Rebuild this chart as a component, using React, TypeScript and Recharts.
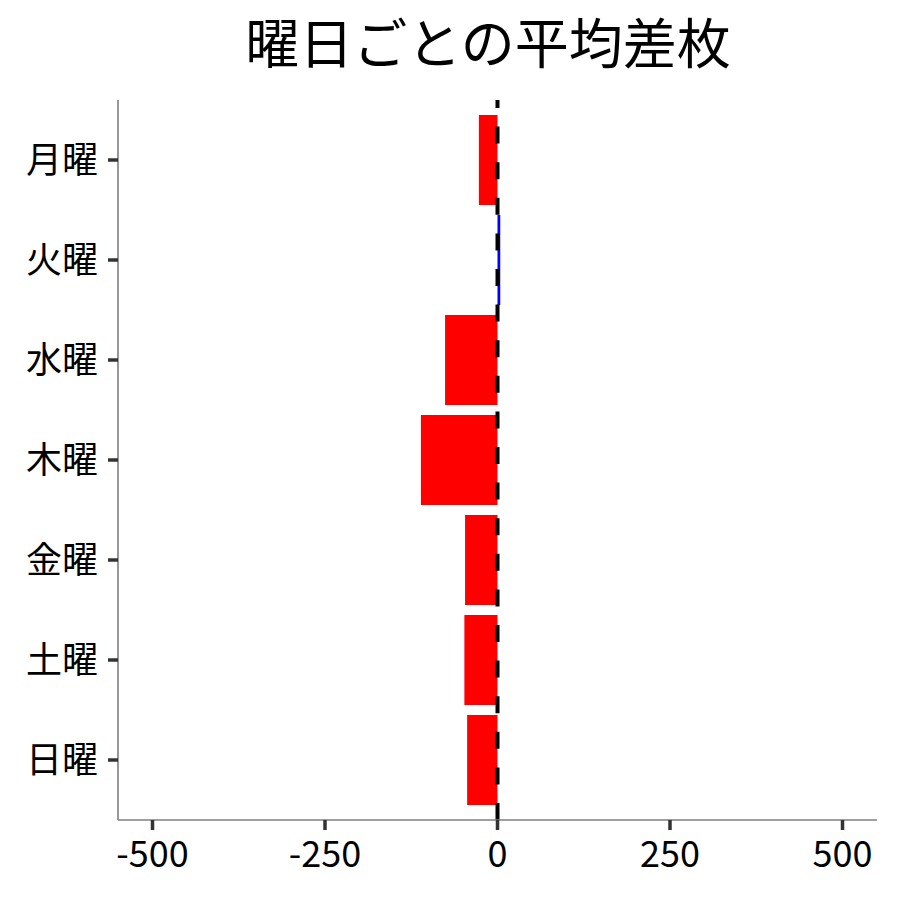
import { BarChart, Bar, XAxis, YAxis, Cell, ReferenceLine } from 'recharts'

// 曜日ごとの平均差枚（横棒、マイナスは赤・プラスは青）

const DAYS = ['月曜', '火曜', '水曜', '木曜', '金曜', '土曜', '日曜']
const DIFFS = [-27, 4, -76, -111, -47, -48, -44]
const X_TICKS = [-500, -250, 0, 250, 500]

const NEG_COLOR = '#ff0000'
const POS_COLOR = '#0000ff'
const FONT = '"Noto Sans CJK JP", "Noto Sans", sans-serif'

export default function App() {
  const chartData = DAYS.map((d, i) => ({ day: d, diff: DIFFS[i] }))

  return (
    <div style={{ position: 'absolute', left: 0, top: 0, width: 900, height: 900, background: '#fff', fontFamily: FONT }}>
      <div
        style={{
          position: 'absolute',
          left: 0,
          width: 976,
          top: 14,
          textAlign: 'center',
          fontSize: 54,
          lineHeight: '54px',
          color: '#000',
          whiteSpace: 'nowrap',
        }}
      >
        曜日ごとの平均差枚
      </div>
      <BarChart
        width={900}
        height={900}
        data={chartData}
        layout="vertical"
        margin={{ top: 100, right: 23, left: 0, bottom: 0 }}
      >
        <XAxis
          type="number"
          domain={[-550, 550]}
          ticks={X_TICKS}
          allowDataOverflow
          height={80}
          axisLine={{ stroke: '#7f7f7f', strokeWidth: 1.6 }}
          tickLine={{ stroke: '#333', strokeWidth: 3.5 }}
          tickSize={10}
          tickMargin={11}
          tick={{ fontSize: 36, fill: '#000', fontFamily: FONT }}
        />
        <YAxis
          type="category"
          dataKey="day"
          width={118}
          padding={{ top: 10, bottom: 10 }}
          axisLine={{ stroke: '#7f7f7f', strokeWidth: 1.6 }}
          tickLine={{ stroke: '#333', strokeWidth: 3.5 }}
          tickSize={10}
          tickMargin={10}
          tick={{ fontSize: 36, fill: '#000', fontFamily: FONT }}
        />
        <Bar dataKey="diff" barSize={90} isAnimationActive={false}>
          {chartData.map((d) => (
            <Cell key={d.day} fill={d.diff < 0 ? NEG_COLOR : POS_COLOR} />
          ))}
        </Bar>
        <ReferenceLine x={0} stroke="#000" strokeWidth={4} strokeDasharray="17 18.6" />
      </BarChart>
    </div>
  )
}
